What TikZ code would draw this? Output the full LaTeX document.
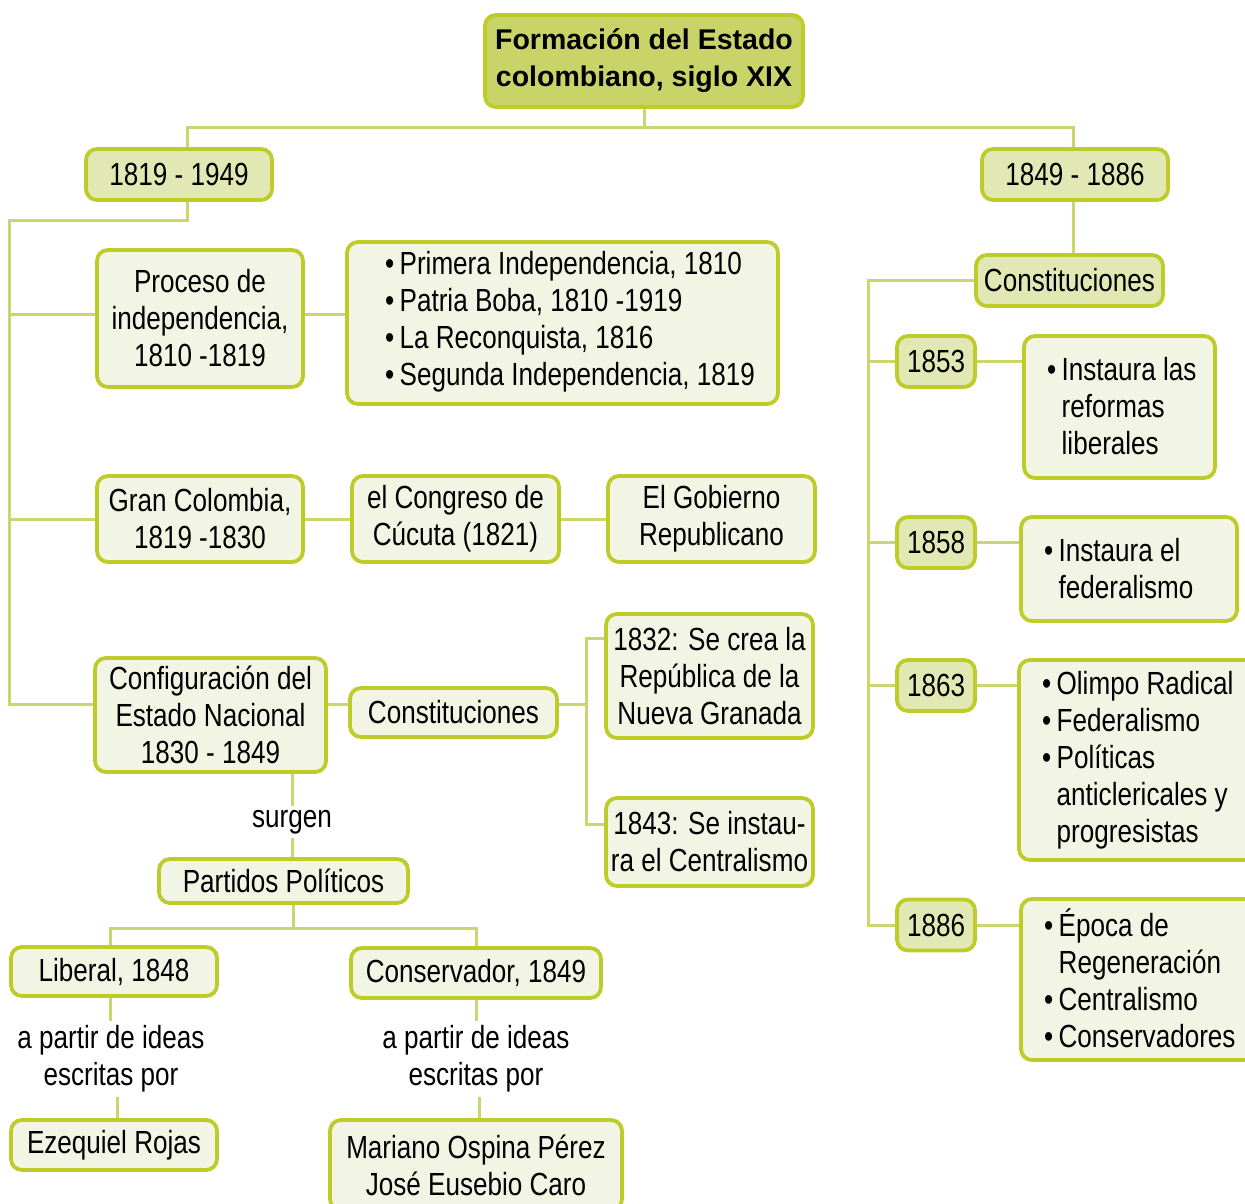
\documentclass[tikz,border=0pt]{standalone}
\usepackage{fontspec}
\setmainfont{Liberation Sans}[FakeStretch=0.815]
\newfontfamily\titlefont{Liberation Sans}
\definecolor{bord}{RGB}{190,204,42}
\definecolor{tfill}{RGB}{201,212,104}
\definecolor{midf}{RGB}{226,232,180}
\definecolor{lightf}{RGB}{242,245,228}
\definecolor{linec}{RGB}{203,214,112}
\newcommand\cf{\fontsize{32}{37}\selectfont}
\newcommand\bul{•\,}
\newcommand\nob{\hphantom{•\,}}
\begin{document}
\begin{tikzpicture}[x=1pt,y=-1pt,
 box/.style={draw=bord, line width=3.8pt, rounded corners=11pt, inner sep=0pt, align=center, font=\cf},
 lt/.style={box, fill=lightf},
 md/.style={box, fill=midf},
 conn/.style={draw=linec, line width=3pt},
 txt/.style={inner xsep=0pt, inner ysep=4pt, align=center, font=\cf},
 ltxt/.style={inner sep=0pt, align=left, font=\cf, anchor=west}]
\useasboundingbox (0,0) rectangle (1245,1204);
\clip (0,0) rectangle (1245,1204);
\fill[white] (0,0) rectangle (1245,1204);

% nodes
\node[box, fill=tfill, minimum width=318pt, minimum height=92pt,
      font=\titlefont\bfseries\fontsize{28.5}{37}\selectfont] (title) at (644,61) {Formación del Estado\\colombiano, siglo XIX};
\node[md, minimum width=186pt, minimum height=51pt] (A) at (179,174.5) {1819 - 1949};
\node[md, minimum width=186pt, minimum height=51pt] (B) at (1075,174.5) {1849 - 1886};

\node[lt, minimum width=206pt, minimum height=137pt] (proc) at (200,318.5) {Proceso de\\independencia,\\1810 -1819};
\node[lt, minimum width=431pt, minimum height=162pt] (bulbox) at (562.5,323) {};
\node[ltxt] (bultxt) at (385,322) {\bul Primera Independencia, 1810\\\bul Patria Boba, 1810 -1919\\\bul La Reconquista, 1816\\\bul Segunda Independencia, 1819};

\node[lt, minimum width=206pt, minimum height=86pt] (gran) at (200,519) {Gran Colombia,\\1819 -1830};
\node[lt, minimum width=207pt, minimum height=86pt] (cong) at (455.5,519) {el Congreso de\\Cúcuta (1821)};
\node[lt, minimum width=207pt, minimum height=86pt] (gob) at (711.5,519) {El Gobierno\\Republicano};

\node[lt, minimum width=231pt, minimum height=114pt] (conf) at (210.5,715) {Configuración del\\Estado Nacional\\1830 - 1849};
\node[lt, minimum width=207pt, minimum height=49pt] (constM) at (453.5,712.5) {Constituciones};
\node[lt, minimum width=207pt, minimum height=124pt] (n1832) at (709.5,676) {1832: Se crea la\\República de la\\Nueva Granada};
\node[lt, minimum width=207pt, minimum height=88pt] (n1843) at (709.5,842) {1843: Se instau-\\ra el Centralismo};

\node[txt] (surgen) at (292,822) {surgen};
\node[lt, minimum width=249pt, minimum height=44pt] (part) at (283.5,881) {Partidos Políticos};
\node[lt, minimum width=206pt, minimum height=49pt] (lib) at (114,971.5) {Liberal, 1848};
\node[lt, minimum width=250pt, minimum height=50pt] (cons) at (476,973) {Conservador, 1849};
\node[txt] (t1) at (111,1059) {a partir de ideas\\escritas por};
\node[txt] (t2) at (476,1059) {a partir de ideas\\escritas por};
\node[lt, minimum width=206pt, minimum height=50pt] (eze) at (114,1145) {Ezequiel Rojas};
\node[lt, minimum width=292pt, minimum height=90pt] (mar) at (476,1165) {Mariano Ospina Pérez\\José Eusebio Caro};

\node[md, minimum width=187pt, minimum height=51pt] (constR) at (1069.5,280.5) {Constituciones};
\node[md, minimum width=78pt, minimum height=51pt] (y1853) at (936,361.5) {1853};
\node[md, minimum width=78pt, minimum height=51pt] (y1858) at (936,542.5) {1858};
\node[md, minimum width=78pt, minimum height=51pt] (y1863) at (936,685.5) {1863};
\node[md, minimum width=78pt, minimum height=51pt] (y1886) at (936,925) {1886};

\node[lt, minimum width=191pt, minimum height=142pt] (d1853) at (1119.5,407) {};
\node[ltxt] (d1853t) at (1047,406) {\bul Instaura las\\\nob reformas\\\nob liberales};
\node[lt, minimum width=216pt, minimum height=104pt] (d1858) at (1129,569) {};
\node[ltxt] (d1858t) at (1044,569) {\bul Instaura el\\\nob federalismo};
\node[lt, minimum width=244pt, minimum height=200pt] (d1863) at (1141,760) {};
\node[ltxt] (d1863t) at (1042,760) {\bul Olimpo Radical\\\bul Federalismo\\\bul Políticas\\\nob anticlericales y\\\nob progresistas};
\node[lt, minimum width=242pt, minimum height=161pt] (d1886) at (1142,979.5) {};
\node[ltxt] (d1886t) at (1044,978) {\bul Época de\\\nob Regeneración\\\bul Centralismo\\\bul Conservadores};

% connectors
\coordinate (bus) at (0,128);
\draw[conn] (title.south) -- (title.south |- bus);
\draw[conn] ([xshift=8pt]A.north) -- ([xshift=8pt]A.north |- bus) -| ([xshift=-2pt]B.north);

\coordinate (sp) at (9,220);
\draw[conn] ([xshift=8pt]A.south) |- (sp) -- (sp |- 0,704) -- ([yshift=11pt]conf.west);
\draw[conn] (sp |- 0,314) -- ([yshift=4.5pt]proc.west);
\draw[conn] (sp |- gran.west) -- (gran.west);
\draw[conn] ([yshift=4.5pt]proc.east) -- ([yshift=4.5pt]proc.east -| bulbox.west);
\draw[conn] (gran.east) -- (cong.west);
\draw[conn] (cong.east) -- (gob.west);

\draw[conn] ([yshift=11pt]conf.east) -- ([yshift=11pt]conf.east -| constM.west);
\draw[conn] ([yshift=8pt]constM.east) -- ++(27,0);
\draw[conn] ([yshift=38pt]n1832.west) -- ++(-18,0) |- ([yshift=18pt]n1843.west);

\draw[conn] (surgen.north) -- (surgen.north |- conf.south);
\draw[conn] (surgen.south) -- (surgen.south |- part.north);
\coordinate (pb) at (0,928);
\draw[conn] ([xshift=10pt]part.south) -- ([xshift=10pt]part.south |- pb);
\draw[conn] ([xshift=-4pt]lib.north) -- ([xshift=-4pt]lib.north |- pb) -| (cons.north);
\draw[conn] ([xshift=-4pt]lib.south) -- ([xshift=-4pt]lib.south |- t1.north);
\draw[conn] ([xshift=3pt]eze.north) -- ([xshift=3pt]eze.north |- t1.south);
\draw[conn] (cons.south) -- (cons.south |- t2.north);
\draw[conn] ([xshift=3pt]mar.north) -- ([xshift=3pt]mar.north |- t2.south);

\draw[conn] ([xshift=-2pt]B.south) -- ([xshift=-2pt]B.south |- constR.north);
\coordinate (rs) at (868,0);
\draw[conn] (constR.west) -| (rs |- y1886.west) -- (y1886.west);
\draw[conn] (rs |- y1853.west) -- (y1853.west);
\draw[conn] (rs |- y1858.west) -- (y1858.west);
\draw[conn] (rs |- y1863.west) -- (y1863.west);
\draw[conn] (y1853.east) -- (y1853.east -| d1853.west);
\draw[conn] (y1858.east) -- (y1858.east -| d1858.west);
\draw[conn] (y1863.east) -- (y1863.east -| d1863.west);
\draw[conn] (y1886.east) -- (y1886.east -| d1886.west);
\end{tikzpicture}
\end{document}
